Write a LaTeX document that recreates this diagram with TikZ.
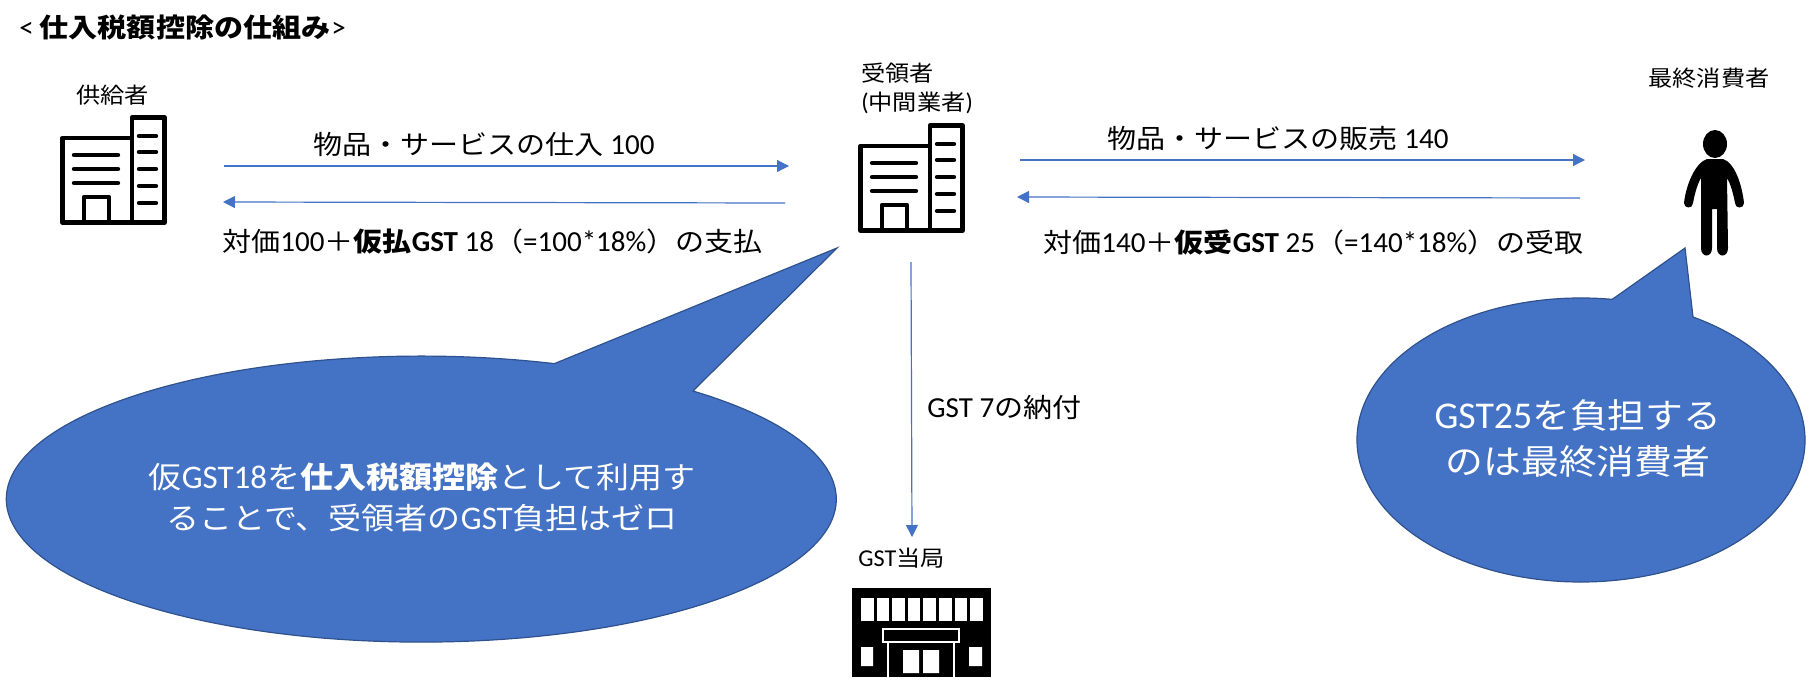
\documentclass[tikz,border=0pt]{standalone}
\usepackage{fontspec}
\setmainfont[Scale=1.1]{Carlito}
\newfontfamily\jpfont[FakeStretch=1.1]{Noto Sans CJK JP}
\newcommand{\ja}[1]{{\jpfont #1}}
\usetikzlibrary{arrows.meta}
\definecolor{gstblue}{HTML}{4472C4}
\definecolor{gstedge}{HTML}{2F528F}
\tikzset{
  flow/.style={draw=gstblue, line width=0.6pt, ->},
  bubble/.style={fill=gstblue, draw=gstedge, line width=0.6pt, line join=miter},
  who/.style={font=\fontsize{11}{14.5}\selectfont, anchor=west, inner sep=0pt},
  deal/.style={font=\fontsize{13.2}{15}\selectfont, anchor=west, inner sep=0pt},
  say/.style={font=\fontsize{15}{20.5}\selectfont, text=white, align=center, inner sep=0pt},
  sayblg/.style={font=\fontsize{17.2}{23}\selectfont, text=white, align=center, inner sep=0pt},
  pics/officeblock/.style={code={
    \draw [line width=2.4pt, line join=round]
      (2.5,107.5) -- (2.5,23) -- (72,23) -- (72,2.5) -- (104.5,2.5) -- (104.5,107.5) -- cycle
      (72,23) -- (72,107.5)
      (24,107.5) -- (24,82) -- (49,82) -- (49,107.5);
    \foreach \h in {40,54,68}
      \draw [line width=2.2pt, line cap=round] (14,\h) -- (58,\h);
    \foreach \h in {21,37,54,71,88}
      \draw [line width=2.2pt, line cap=round] (79,\h) -- (96,\h);
  }}
}

\begin{document}
\begin{tikzpicture}[x=0.5pt, y=-0.5pt, >={Triangle[length=6pt,width=6pt]}]

    \useasboundingbox (0,0) rectangle (1815,681);

    % speech bubbles
    \draw [bubble] (837,248) -- (693,391)
        arc[start angle=-49.1, end angle=288.7, x radius=415, y radius=143] -- cycle;
    \draw [bubble] (1685,248) -- (1693,317)
        arc[start angle=-60, end angle=278, x radius=224, y radius=142] -- cycle;

    \node [font=\fontsize{13.2}{15}\selectfont, anchor=west, inner sep=0pt]
        (title) at (19,27) {<\hspace{3pt}\textbf{\ja{仕入税額控除の仕組み}}\hspace{0.5pt}>};

    % buildings and person
    \pic at (60,115) {officeblock};
    \pic at (858,123) {officeblock};

    \fill (1715,144) ellipse[x radius=12, y radius=14];
    \fill (1707,159) -- (1723,159) .. controls (1735,163) and (1742,185) .. (1744,203)
        .. controls (1744,209) and (1735,209) .. (1735,203)
        .. controls (1733,192) and (1730,183) .. (1727,178) -- (1728,248)
        .. controls (1728,258) and (1717,258) .. (1717,248) -- (1717,209) -- (1712,209)
        -- (1712,248) .. controls (1712,258) and (1701,258) .. (1701,248) -- (1701,178)
        .. controls (1698,183) and (1695,192) .. (1693,203)
        .. controls (1693,209) and (1684,209) .. (1684,203)
        .. controls (1686,185) and (1695,163) .. (1707,159) -- cycle;

    \fill (852,588) rectangle (991,677);
    \foreach \w in {0,...,7}
        \fill [white] ({861+15.6*\w},598) rectangle ({873.5+15.6*\w},621);
    \draw [white, line width=1pt] (883,629) rectangle (959,642);
    \draw [white, line width=1pt] (888,642) -- (888,677) (954,642) -- (954,677);
    \fill [white] (903,650) rectangle (919,673) (923,650) rectangle (939,673);
    \fill [white] (861,647) rectangle (873,666) (969,647) rectangle (982,666);

    % labels
    \node [who] (supplier) at (76,95) {\ja{供給者}};
    \node [who, align=left] (receiver) at (861,88.5) {\ja{受領者}\\(\ja{中間業者})};
    \node [who] (consumer) at (1648,78) {\ja{最終消費者}};
    \node [who] (office) at (858,558) {GST\ja{当局}};

    \node [deal] (buy) at (313,144) {\ja{物品・サービスの仕入} 100};
    \node [deal] (pay) at (222,242) {\ja{対価}100\ja{＋}\textbf{\ja{仮払}GST} 18\ja{（}=100*18\%\ja{）の支払}};
    \node [deal] (sell) at (1107,139) {\ja{物品・サービスの販売} 140};
    \node [deal] (get) at (1043,242) {\ja{対価}140\ja{＋}\textbf{\ja{仮受}GST} 25\ja{（}=140*18\%\ja{）の受取}};
    \node [deal] (remit) at (927,407) {GST 7\ja{の納付}};

    \node [say] (offset) at (422,497) {\ja{仮}GST18\ja{を}\textbf{\ja{仕入税額控除}}\ja{として利用す}\\
        \ja{ることで、受領者の}GST\ja{負担はゼロ}};
    \node [sayblg] (burden) at (1578,439) {GST25\ja{を負担する}\\\ja{のは最終消費者}};

    % flows
    \coordinate (a1) at (224,166);
    \coordinate (a2) at (789,166);
    \coordinate (b1) at (785,203);
    \coordinate (b2) at (223,202);
    \coordinate (c1) at (1020,160);
    \coordinate (c2) at (1585,160);
    \coordinate (d1) at (1580,198);
    \coordinate (d2) at (1017,197);
    \coordinate (e1) at (911,262);
    \coordinate (e2) at (912,537);
    \draw [flow] (a1) -- (a2);
    \draw [flow] (b1) -- (b2);
    \draw [flow] (c1) -- (c2);
    \draw [flow] (d1) -- (d2);
    \draw [flow] (e1) -- (e2);

\end{tikzpicture}
\end{document}
